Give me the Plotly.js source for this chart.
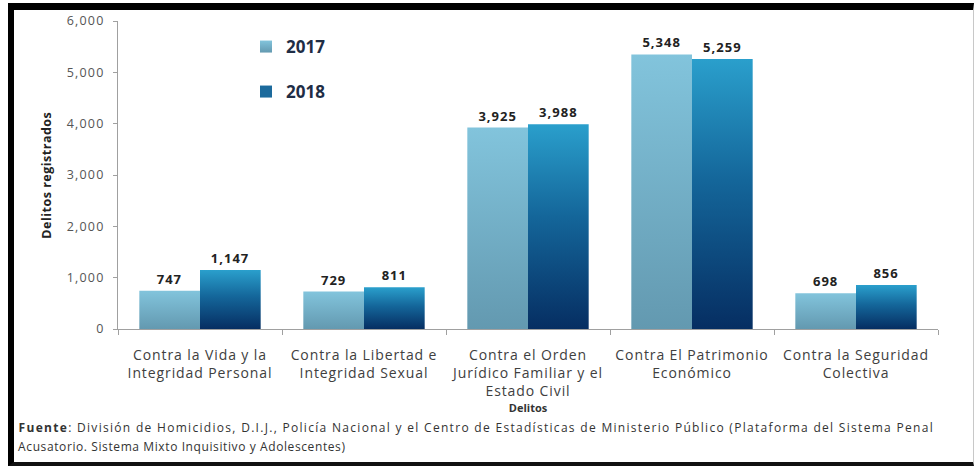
<!DOCTYPE html>
<html>
<head>
<meta charset="utf-8">
<script src="https://cdn.plot.ly/plotly-3.0.1.min.js"></script>
<style>
html,body{margin:0;padding:0;background:#fff;}
#wrap{position:relative;width:979px;height:466px;overflow:hidden;background:#fff;}
#chart{position:absolute;left:0;top:0;width:979px;height:466px;}
#frame{position:absolute;left:8px;top:3px;width:959px;height:452px;
  border-top:7px solid #000;border-left:6px solid #000;border-bottom:4px solid #111;border-right:1px solid #c8c8c8;pointer-events:none;}
#chart .xtick text{letter-spacing:0.9px;}
#chart .ytick text{letter-spacing:1.2px;}
#chart .bartext{letter-spacing:1px;}
#chart .annotation[data-index="0"] text{letter-spacing:0.5px;}
#chart .annotation[data-index="1"] text{letter-spacing:1.3px;}
#chart .annotation[data-index="2"] text{letter-spacing:0.6px;}
</style>
</head>
<body>
<div id="wrap"><div id="chart"></div><div id="frame"></div></div>
<script>
const categories = [
  "Contra la Vida y la<br>Integridad Personal",
  "Contra la Libertad e<br>Integridad Sexual",
  "Contra el Orden<br>Jurídico Familiar y el<br>Estado Civil",
  "Contra El Patrimonio<br>Económico",
  "Contra la Seguridad<br>Colectiva"
];
const values2017 = [747, 729, 3925, 5348, 698];
const values2018 = [1147, 811, 3988, 5259, 856];
const seriesNames = ["2017", "2018"];
const yTickVals = [0, 1000, 2000, 3000, 4000, 5000, 6000];
const yTickText = ["0", "1,000", "2,000", "3,000", "4,000", "5,000", "6,000"];

const fmt = v => v.toLocaleString("en-US");
const FONT = "'Open Sans', Lato, sans-serif";

const traces = [
  {type:"bar", name:seriesNames[0], x:categories, y:values2017,
   text:values2017.map(v => "<b>" + fmt(v) + "</b>"), textposition:"outside", cliponaxis:false,
   textfont:{family:FONT, size:13, color:"#222"},
   marker:{color:"#78b8d0"}, legend:"legend", hoverinfo:"skip"},
  {type:"bar", name:seriesNames[1], x:categories, y:values2018,
   text:values2018.map(v => "<b>" + fmt(v) + "</b>"), textposition:"outside", cliponaxis:false,
   textfont:{family:FONT, size:13, color:"#222"},
   marker:{color:"#1c6a9c"}, legend:"legend2", hoverinfo:"skip"}
];

const W = 979, H = 466, L = 118, R = 41, T = 21, B = 137;
const pw = W - L - R, ph = H - T - B;
const px = x => (x - L) / pw;
const py = y => (H - B - y) / ph;

const layout = {
  width: W, height: H,
  margin: {l:L, r:R, t:T, b:B},
  paper_bgcolor: "#fff", plot_bgcolor: "#fff",
  barmode: "group", bargap: 0.26, bargroupgap: 0,
  font: {family: FONT, color: "#404040"},
  showlegend: true,
  legend: {x: px(246), y: py(47), xanchor:"left", yanchor:"middle",
    font:{family:FONT, size:17, color:"#1f2d45", weight:"bold"}, bgcolor:"rgba(0,0,0,0)", itemwidth:30},
  legend2: {x: px(246), y: py(92), xanchor:"left", yanchor:"middle",
    font:{family:FONT, size:17, color:"#1f2d45", weight:"bold"}, bgcolor:"rgba(0,0,0,0)", itemwidth:30},
  xaxis: {
    showline:true, linecolor:"#a0a0a0", linewidth:1,
    ticks:"outside", tickson:"boundaries", ticklen:5, tickcolor:"#a0a0a0",
    ticklabelstandoff: 13,
    tickfont:{family:FONT, size:14, color:"#404040"},
    title:{text:"<b>Delitos</b>", font:{family:FONT, size:11, color:"#333"}, standoff:0},
    showgrid:false, zeroline:false, fixedrange:true
  },
  yaxis: {
    range:[0, 6000], tickvals:yTickVals, ticktext:yTickText,
    showline:true, linecolor:"#a0a0a0", linewidth:1,
    ticks:"outside", ticklen:4, tickcolor:"#a0a0a0",
    ticklabelstandoff: 6,
    tickfont:{family:FONT, size:12.5, color:"#555"},
    showgrid:false, zeroline:false, fixedrange:true
  },
  annotations: [
    {text:"<b>Delitos registrados</b>", xref:"paper", yref:"paper",
     x: px(46), y: 0.5, textangle:-90, showarrow:false,
     font:{family:FONT, size:12.5, color:"#222"}, xanchor:"center", yanchor:"middle"},
    {text:"<b>Fuente</b>: División de Homicidios, D.I.J., Policía Nacional y el Centro de Estadísticas de Ministerio Público (Plataforma del Sistema Penal",
     xref:"paper", yref:"paper", x: px(476), y: py(427), xanchor:"center", yanchor:"middle",
     showarrow:false, font:{family:FONT, size:12, color:"#333"}},
    {text:"Acusatorio. Sistema Mixto Inquisitivo y Adolescentes)",
     xref:"paper", yref:"paper", x: px(182), y: py(446), xanchor:"center", yanchor:"middle",
     showarrow:false, font:{family:FONT, size:12, color:"#333"}}
  ]
};

function applyGradients(gd){
  const svg = gd.querySelector("svg.main-svg");
  if(!svg) return;
  let defs = svg.querySelector("defs");
  const NS = "http://www.w3.org/2000/svg";
  const grads = {
    g2017: [["0%","#82c4dc"],["100%","#6399b0"]],
    g2018: [["0%","#2a9fcc"],["45%","#14669a"],["100%","#062e62"]]
  };
  Object.keys(grads).forEach(id => {
    if(svg.querySelector("#"+id)) return;
    const lg = document.createElementNS(NS, "linearGradient");
    lg.setAttribute("id", id);
    lg.setAttribute("x1","0"); lg.setAttribute("y1","0");
    lg.setAttribute("x2","0"); lg.setAttribute("y2","1");
    grads[id].forEach(s => {
      const st = document.createElementNS(NS, "stop");
      st.setAttribute("offset", s[0]);
      st.setAttribute("stop-color", s[1]);
      lg.appendChild(st);
    });
    defs.appendChild(lg);
  });
  const barTraces = gd.querySelectorAll(".barlayer .trace.bars");
  barTraces.forEach((tr, i) => {
    const id = i === 0 ? "g2017" : "g2018";
    tr.querySelectorAll("path").forEach(p => { p.style.fill = "url(#" + id + ")"; });
  });
  const legs = gd.querySelectorAll(".legend .traces .legendpoints path");
  legs.forEach(p => {
    const leg = p.closest(".legend");
    const isSecond = leg && leg.classList.contains("legend2");
    p.style.fill = "url(#" + (isSecond ? "g2018" : "g2017") + ")";
  });
}

const gd = document.getElementById("chart");
Plotly.newPlot(gd, traces, layout, {displayModeBar:false, staticPlot:true}).then(() => {
  applyGradients(gd);
  gd.on("plotly_afterplot", () => applyGradients(gd));
});
</script>
</body>
</html>
